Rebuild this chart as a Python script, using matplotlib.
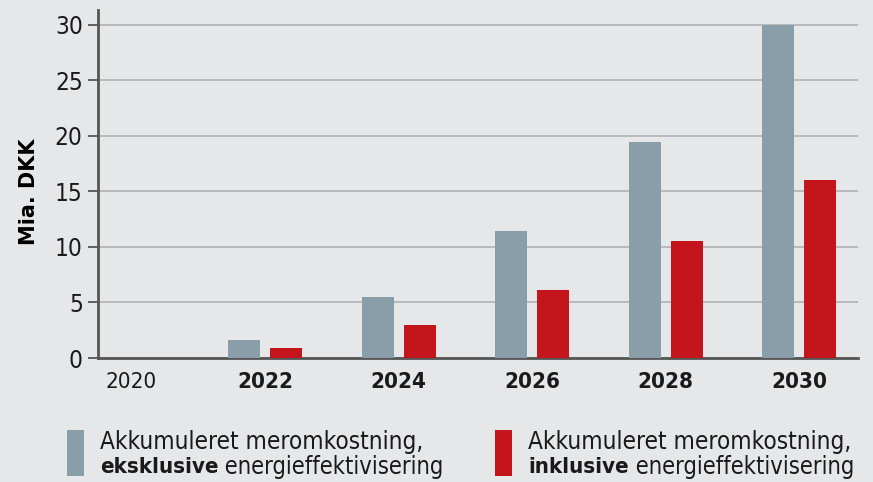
import matplotlib
matplotlib.use("Agg")
import matplotlib.pyplot as plt
from matplotlib.patches import Rectangle
import numpy as np

years = ["2020", "2022", "2024", "2026", "2028", "2030"]
excl = [0.0, 1.6, 5.5, 11.4, 19.5, 30.0]
incl = [0.0, 0.9, 3.0, 6.1, 10.5, 16.0]
yticks = [0, 5, 10, 15, 20, 25, 30]
legend_top = "Akkumuleret meromkostning,"
legend_excl = ("eksklusive", " energieffektivisering")
legend_incl = ("inklusive", " energieffektivisering")

BG = "#e6e7e9"
GRAY = "#8a9eaa"
RED = "#c4141c"
FAM = ["DejaVu Sans"]
ST = "condensed"

fig = plt.figure(figsize=(8.73, 4.82), dpi=100, facecolor=BG)
ax = fig.add_axes([98/873, 1-358/482, (858-98)/873, (358-10)/482])
ax.set_facecolor(BG)

x = np.arange(len(years))
w = 0.24
off = 0.157
ax.bar(x - off, excl, width=w, color=GRAY, zorder=3)
ax.bar(x + off, incl, width=w, color=RED, zorder=3)

ax.set_xlim(-0.251, 5.44)
ax.set_ylim(0, 31.35)
ax.set_yticks(yticks)
ax.set_yticklabels([str(t) for t in yticks], fontsize=17.5, family=FAM,
                   fontstretch=ST, color="#1a1a1a")
ax.yaxis.grid(True, color="#b4b6b8", linewidth=1.3, zorder=1)
ax.set_axisbelow(True)
ax.tick_params(axis="y", length=7, width=1.3, color="#555555", pad=4)
ax.tick_params(axis="x", length=0, pad=10)
ax.set_xticks(x)
ax.set_xticklabels(years, fontsize=16, family=FAM, fontstretch=ST, color="#1a1a1a")
for i, lab in enumerate(ax.get_xticklabels()):
    lab.set_fontweight("normal" if i == 0 else "bold")

for s in ["top", "right"]:
    ax.spines[s].set_visible(False)
for s in ["left", "bottom"]:
    ax.spines[s].set_color("#555555")
    ax.spines[s].set_linewidth(2)

ax.set_ylabel("Mia. DKK", fontsize=15, fontweight="bold", family=FAM)
ax.yaxis.set_label_coords(-0.077, 0.477)

def legend_item(px, color, bold_word, rest):
    fig.add_artist(Rectangle((px/873, 1-476/482), 17/873, 46/482,
                             transform=fig.transFigure, color=color, lw=0))
    tx = (px + 33) / 873
    fig.text(tx, 1-442/482, legend_top, fontsize=17.5, family=FAM, fontstretch=ST,
             va="center", ha="left", color="#1a1a1a")
    t = fig.text(tx, 1-467/482, bold_word, fontsize=16, family=FAM, fontstretch=ST,
                 fontweight="bold", va="center", ha="left", color="#1a1a1a")
    ax.annotate(rest, xy=(1, 0.5), xycoords=t, va="center", ha="left",
                fontsize=17, family=FAM, fontstretch=ST, color="#1a1a1a",
                annotation_clip=False)

legend_item(67, GRAY, *legend_excl)
legend_item(495, RED, *legend_incl)

fig.savefig("out.png", dpi=100, facecolor=BG)
